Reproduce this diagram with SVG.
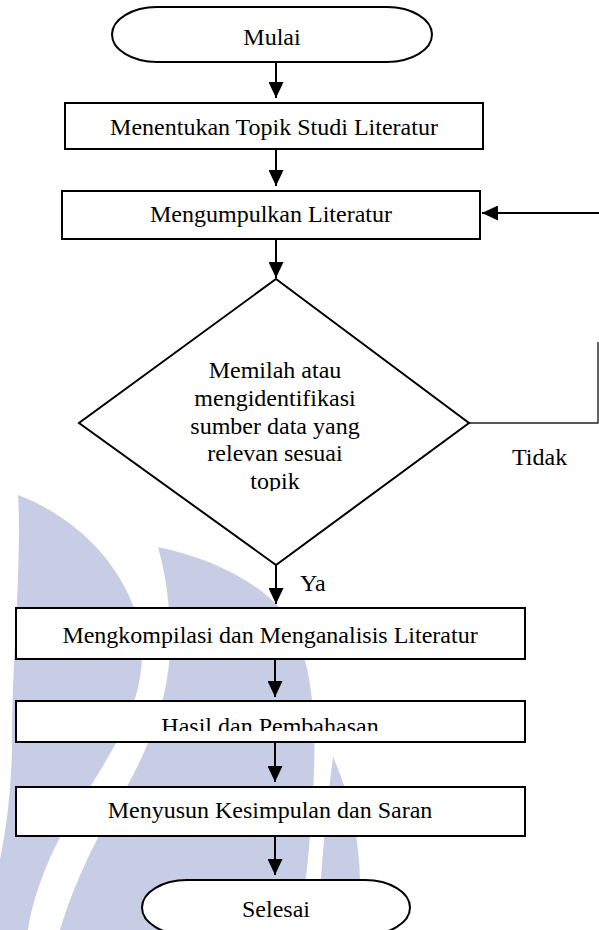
<svg xmlns="http://www.w3.org/2000/svg" width="599" height="930" viewBox="0 0 599 930">
<defs>
<style>
.box{fill:#fff;stroke:#000;stroke-width:2}
.t{font-family:"Liberation Serif","Times New Roman",serif;font-size:24px;fill:#000;text-anchor:middle}
.l{font-family:"Liberation Serif","Times New Roman",serif;font-size:24px;fill:#000}
.c{stroke:#000;stroke-width:2;fill:none}
.fb{stroke:#222;stroke-width:1.4;fill:none}
.wm{fill:#c7cde5}
</style>
<marker id="ah" viewBox="0 0 16 15" refX="16" refY="7.5" markerWidth="16" markerHeight="15" markerUnits="userSpaceOnUse" orient="auto">
<path d="M0,0 L16,7.5 L0,15 Z" fill="#000"/>
</marker>
<clipPath id="clipD"><rect x="0" y="0" width="599" height="491"/></clipPath>
<clipPath id="clipH"><rect x="0" y="0" width="599" height="731"/></clipPath>
</defs>
<rect width="599" height="930" fill="#fff"/>
<g id="watermark">
<path class="wm" d="M18,495 C70,515 115,555 135,610 C150,655 140,700 115,745 C90,790 60,830 45,870 C35,895 30,915 28,930 L0,930 L0,860 C8,820 12,780 12,740 C12,660 22,560 18,495 Z"/>
<path class="wm" d="M158,547 C220,560 275,590 295,630 C312,670 316,720 314,770 C312,830 305,890 300,930 L60,930 C75,880 100,830 125,790 C150,745 168,700 170,650 C171,610 166,575 158,547 Z"/>
<path class="wm" d="M333,757 C350,795 360,840 360,885 C360,905 358,920 356,930 L318,930 C320,880 326,810 333,757 Z"/>
</g>
<g id="connectors">
<path class="c" d="M276,62 V98" marker-end="url(#ah)"/>
<path class="c" d="M276,149 V186" marker-end="url(#ah)"/>
<path class="c" d="M276,239 V278" marker-end="url(#ah)"/>
<path class="c" d="M599,213 H482" marker-end="url(#ah)"/>
<path class="fb" d="M469,423 H598 V342"/>
<path class="c" d="M276,565 V604" marker-end="url(#ah)"/>
<path class="c" d="M275,659 V697" marker-end="url(#ah)"/>
<path class="c" d="M275,742 V782" marker-end="url(#ah)"/>
<path class="c" d="M275,836 V875" marker-end="url(#ah)"/>
</g>
<g id="mulai">
<rect class="box" x="112" y="7" width="320" height="55" rx="45" ry="27.5"/>
<text class="t" x="272" y="45">Mulai</text>
</g>
<g id="topik">
<rect class="box" x="65" y="103" width="418" height="46"/>
<text class="t" x="274" y="135">Menentukan Topik Studi Literatur</text>
</g>
<g id="kumpul">
<rect class="box" x="62" y="191" width="418" height="48"/>
<text class="t" x="271" y="222">Mengumpulkan Literatur</text>
</g>
<g id="pilah">
<polygon class="box" points="276,279 469,423 276,565 79,423"/>
<g clip-path="url(#clipD)">
<text class="t" x="275" y="378">Memilah atau</text>
<text class="t" x="275" y="406">mengidentifikasi</text>
<text class="t" x="275" y="434">sumber data yang</text>
<text class="t" x="275" y="461">relevan sesuai</text>
<text class="t" x="275" y="489">topik</text>
</g>
</g>
<g id="labels">
<text class="l" x="300" y="591">Ya</text>
<text class="l" x="512" y="465">Tidak</text>
</g>
<g id="kompilasi">
<rect class="box" x="16" y="608" width="509" height="51"/>
<text class="t" x="270" y="643">Mengkompilasi dan Menganalisis Literatur</text>
</g>
<g id="hasil">
<rect class="box" x="16" y="701" width="509" height="41"/>
<g clip-path="url(#clipH)"><text class="t" x="270" y="734">Hasil dan Pembahasan</text></g>
</g>
<g id="simpulan">
<rect class="box" x="16" y="787" width="509" height="49"/>
<text class="t" x="270" y="818">Menyusun Kesimpulan dan Saran</text>
</g>
<g id="selesai">
<rect class="box" x="142" y="880" width="268" height="55" rx="45" ry="27.5"/>
<text class="t" x="276" y="917">Selesai</text>
</g>
</svg>
